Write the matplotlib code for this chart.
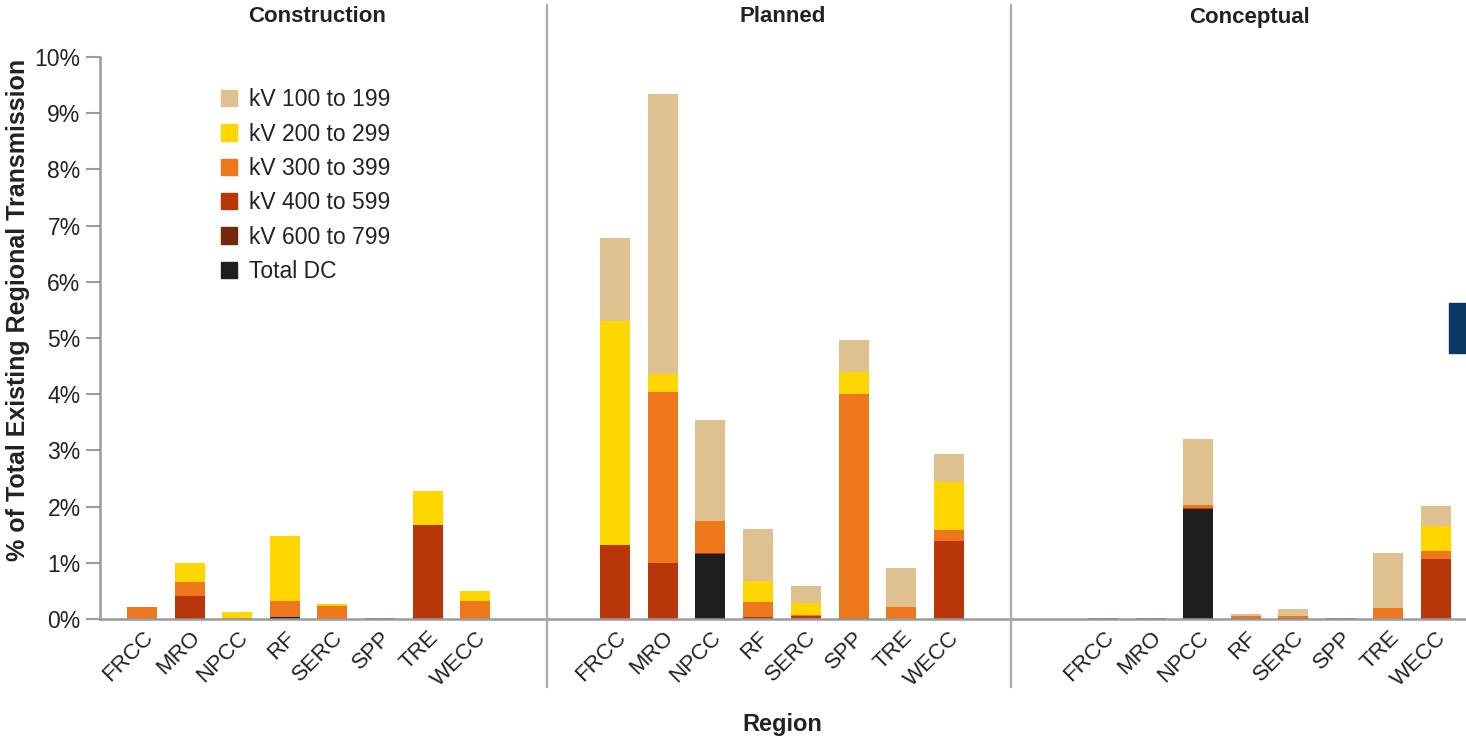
import matplotlib
matplotlib.use("Agg")
import matplotlib.pyplot as plt
from matplotlib.lines import Line2D
from matplotlib.patches import Rectangle, Patch
import numpy as np

plt.rcParams['font.family'] = ['Liberation Sans', 'DejaVu Sans']

regions = ["FRCC", "MRO", "NPCC", "RF", "SERC", "SPP", "TRE", "WECC"]
stages = ["Construction", "Planned", "Conceptual"]
series_names = ["Total DC", "kV 600 to 799", "kV 400 to 599",
                "kV 300 to 399", "kV 200 to 299", "kV 100 to 199"]
colors = ["#1e1e1c", "#74270a", "#b8360a", "#ee771b", "#ffd600", "#dec18e"]

# % of total existing regional transmission, stacked bottom -> top
construction_dc = [0, 0, 0, 0.04, 0, 0, 0, 0]
construction_600 = [0, 0.02, 0, 0, 0, 0, 0, 0]
construction_400 = [0, 0.39, 0, 0, 0, 0.01, 1.68, 0]
construction_300 = [0.21, 0.25, 0.01, 0.28, 0.23, 0, 0, 0.32]
construction_200 = [0.01, 0.34, 0.12, 1.16, 0.04, 0, 0.60, 0.18]
construction_100 = [0, 0, 0, 0, 0, 0, 0, 0]

planned_dc = [0, 0, 1.16, 0, 0, 0, 0, 0]
planned_600 = [0, 0, 0, 0, 0, 0, 0, 0]
planned_400 = [1.32, 1.00, 0.02, 0.04, 0.06, 0.01, 0, 1.39]
planned_300 = [0, 3.04, 0.56, 0.27, 0.01, 4.00, 0.21, 0.20]
planned_200 = [3.98, 0.32, 0.01, 0.36, 0.21, 0.39, 0, 0.85]
planned_100 = [1.48, 4.98, 1.79, 0.94, 0.30, 0.57, 0.69, 0.50]

conceptual_dc = [0, 0, 1.96, 0, 0, 0, 0, 0]
conceptual_600 = [0, 0, 0, 0, 0, 0, 0, 0]
conceptual_400 = [0.01, 0.01, 0.02, 0.02, 0.01, 0.01, 0, 1.07]
conceptual_300 = [0, 0, 0.05, 0.03, 0.05, 0, 0.20, 0.14]
conceptual_200 = [0, 0, 0, 0, 0, 0, 0, 0.45]
conceptual_100 = [0, 0, 1.17, 0.035, 0.12, 0, 0.98, 0.35]

data = {
    "Construction": [construction_dc, construction_600, construction_400,
                     construction_300, construction_200, construction_100],
    "Planned": [planned_dc, planned_600, planned_400,
                planned_300, planned_200, planned_100],
    "Conceptual": [conceptual_dc, conceptual_600, conceptual_400,
                   conceptual_300, conceptual_200, conceptual_100],
}

W, H = 1466, 738
fig = plt.figure(figsize=(W / 100, H / 100), dpi=100)

grey = "#9b9b9b"
ink = "#222222"
y0_px, y1_px = 619, 57
panel_px = [(100, 547), (547, 1011), (1011, 1466)]
xlims = [(-0.883, 8.51), (-1.425, 8.30), (-1.934, 7.63)]
title_px = [317, 783, 1249]

axes = []
for i, stage in enumerate(stages):
    l, r = panel_px[i]
    ax = fig.add_axes([l / W, 1 - y0_px / H, (r - l) / W, (y0_px - y1_px) / H])
    axes.append(ax)
    x = np.arange(len(regions))
    bottom = np.zeros(len(regions))
    for vals, name, c in zip(data[stage], series_names, colors):
        vals = np.array(vals, dtype=float)
        ax.bar(x, vals, 0.63, bottom=bottom, color=c, label=name, linewidth=0)
        bottom += vals
    ax.set_xlim(*xlims[i])
    ax.set_ylim(0, 10)
    for s in ["top", "right"]:
        ax.spines[s].set_visible(False)
    ax.spines["bottom"].set_color(grey)
    ax.spines["bottom"].set_linewidth(1.8)
    ax.set_xticks(x)
    ax.set_xticklabels(regions, rotation=45, ha="right", rotation_mode="anchor",
                       fontsize=16, color=ink)
    ax.tick_params(axis="x", length=0, pad=6)
    fig.text(title_px[i] / W, 1 - 17 / H, stage, ha="center", va="center",
             fontsize=16, fontweight="bold", color=ink)
    if i == 0:
        ax.spines["left"].set_color(grey)
        ax.spines["left"].set_linewidth(1.8)
        ax.set_yticks(range(0, 11))
        ax.set_yticklabels([f"{v}%" for v in range(0, 11)], fontsize=16.5, color=ink)
        ax.tick_params(axis="y", length=10, width=1.5, color=grey, pad=4)
    else:
        ax.spines["left"].set_visible(False)
        ax.set_yticks([])

# legend: top-down order is 100-199 first
handles = [Patch(color=c) for c in colors][::-1]
labels = series_names[::-1]
axes[0].legend(handles, labels, loc="upper left",
               bbox_to_anchor=(212 / W, 1 - 79 / H), bbox_transform=fig.transFigure,
               borderaxespad=0, frameon=False, fontsize=16.5, handlelength=0.7,
               handleheight=0.7, handletextpad=0.5, labelspacing=0.495,
               labelcolor=ink)

# panel dividers
for xp in [547, 1011]:
    fig.add_artist(Line2D([xp / W, xp / W], [1 - 5 / H, 1 - 687 / H],
                          color="#aaaaaa", linewidth=1.6, transform=fig.transFigure))

fig.text(18 / W, 1 - 310 / H, "% of Total Existing Regional Transmission",
         rotation=90, ha="center", va="center", fontsize=18, fontweight="bold",
         color=ink)
fig.text(782 / W, 1 - 724 / H, "Region", ha="center", va="center",
         fontsize=17, fontweight="bold", color=ink)

fig.add_artist(Rectangle((1449 / W, 1 - 353 / H), 17 / W, 50 / H,
                         color="#0b3765", transform=fig.transFigure))

fig.savefig("out.png", dpi=100)
